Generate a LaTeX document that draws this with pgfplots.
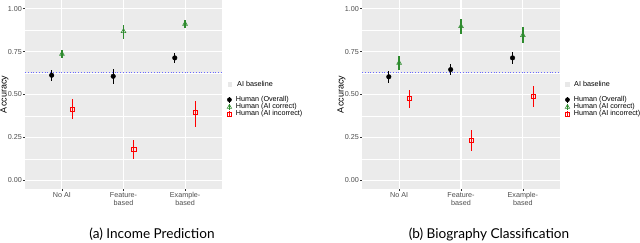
\documentclass[border=0pt]{standalone}
\usepackage{fontspec}
\setmainfont{Liberation Sans}
\newfontfamily\capfont{Lato}
\usepackage{pgfplots}
\usepackage{pgfplotstable}
\pgfplotsset{compat=1.18}
\definecolor{panelbg}{HTML}{EBEBEB}
\definecolor{ticklab}{HTML}{4D4D4D}
\definecolor{tickcol}{HTML}{333333}
\definecolor{dgreen}{HTML}{2E8B2E}
\definecolor{blblue}{HTML}{6A6AFF}
\definecolor{keygrey}{HTML}{E8E8E8}

% left panel data: x y ep em
\pgfplotstableread{
x y ep em
-0.167 0.612 0.033 0.034
0.833 0.606 0.043 0.042
1.833 0.713 0.029 0.029
}\LOverall
\pgfplotstableread{
x y ep em
0 0.736 0.021 0.024
1 0.868 0.035 0.044
2 0.911 0.021 0.023
}\LCorrect
\pgfplotstableread{
x y ep em
0.167 0.413 0.058 0.058
1.167 0.180 0.058 0.058
2.167 0.397 0.064 0.085
}\LIncorrect
% right panel data
\pgfplotstableread{
x y ep em
-0.167 0.603 0.033 0.035
0.833 0.645 0.035 0.033
1.833 0.713 0.037 0.035
}\ROverall
\pgfplotstableread{
x y ep em
0 0.684 0.039 0.039
1 0.897 0.043 0.044
2 0.845 0.048 0.045
}\RCorrect
\pgfplotstableread{
x y ep em
0.167 0.476 0.053 0.053
1.167 0.234 0.057 0.064
2.167 0.490 0.058 0.064
}\RIncorrect

\pgfplotsset{
  myaxis/.style={
    scale only axis, height=189pt,
    xmin=-0.6, xmax=2.6, ymin=-0.05, ymax=1.05,
    axis background/.style={fill=panelbg},
    axis line style={draw=none},
    xtick={0,1,2},
    xticklabels={No AI,{Feature-\\based},{Example-\\based}},
    ytick={0,0.25,0.5,0.75,1},
    yticklabels={0.00,0.25,0.50,0.75,1.00},
    minor ytick={0.125,0.375,0.625,0.875},
    grid=both,
    major grid style={white, line width=1.1pt},
    minor grid style={white, line width=0.55pt},
    tick align=outside,
    xtick pos=bottom, ytick pos=left,
    major tick length=2pt, minor tick length=0pt,
    tick style={tickcol, line width=0.5pt},
    tick label style={font=\fontsize{7.2}{8}\selectfont, text=ticklab},
    xticklabel style={align=center, inner sep=1pt},
    yticklabel style={inner sep=1pt},
    ylabel={Accuracy},
    every axis y label/.style={at={(axis description cs:-0.104,0.5)}, rotate=90, anchor=center, font=\fontsize{9}{10}\selectfont},
    error bars/y dir=both, error bars/y explicit, error bars/error mark=none,
    legend style={draw=none, fill=none, at={(axis description cs:1.024,0.492)}, anchor=north west,
      font=\fontsize{7.2}{8}\selectfont, row sep=0pt, inner sep=0pt, column sep=4pt,
      nodes={inner sep=0pt, text height=5.1pt, text depth=1.3pt}},
    legend cell align=left,
  },
  ovr/.style={black, only marks, mark=*, mark size=2.3pt,
    error bars/error bar style={line width=1.3pt, black},
    legend image code/.code={\draw[black,line width=1.1pt](0pt,-3pt)--(0pt,3pt); \fill[black](0pt,0pt) circle (2.1pt);}},
  cor/.style={dgreen, only marks, mark=triangle, mark size=2.7pt, mark options={line width=0.6pt, fill=none},
    error bars/error bar style={line width=1.3pt, dgreen},
    legend image code/.code={\draw[dgreen,line width=1.1pt](0pt,-3pt)--(0pt,3pt); \draw[dgreen,line width=0.6pt](0pt,2.4pt)--(-2.2pt,-1.5pt)--(2.2pt,-1.5pt)--cycle;}},
  inc/.style={red, only marks, mark=square, mark size=2.1pt, mark options={line width=0.6pt, fill=none},
    error bars/error bar style={line width=1.3pt, red},
    legend image code/.code={\draw[red,line width=1.1pt](0pt,-3pt)--(0pt,3pt); \draw[red,line width=0.6pt](-2pt,-2pt) rectangle (2pt,2pt);}},
}

\begin{document}
\begin{tikzpicture}
\begin{axis}[myaxis, width=197pt, at={(25pt,54pt)}, anchor=south west]
\addplot[blblue, dotted, line width=0.8pt, forget plot] coordinates {(-0.6,0.628) (2.6,0.628)};
\addplot[ovr] table[x=x,y=y,y error plus=ep,y error minus=em] {\LOverall};
\addlegendentry{Human (Overall)}
\addplot[cor] table[x=x,y=y,y error plus=ep,y error minus=em] {\LCorrect};
\addlegendentry{Human (AI correct)}
\addplot[inc] table[x=x,y=y,y error plus=ep,y error minus=em] {\LIncorrect};
\addlegendentry{Human (AI incorrect)}
\end{axis}
\begin{axis}[myaxis, width=198pt, at={(362pt,54pt)}, anchor=south west]
\addplot[blblue, dotted, line width=0.8pt, forget plot] coordinates {(-0.6,0.628) (2.6,0.628)};
\addplot[ovr] table[x=x,y=y,y error plus=ep,y error minus=em] {\ROverall};
\addlegendentry{Human (Overall)}
\addplot[cor] table[x=x,y=y,y error plus=ep,y error minus=em] {\RCorrect};
\addlegendentry{Human (AI correct)}
\addplot[inc] table[x=x,y=y,y error plus=ep,y error minus=em] {\RIncorrect};
\addlegendentry{Human (AI incorrect)}
\end{axis}
\node[anchor=west, inner sep=0pt, font=\fontsize{7.2}{8}\selectfont] at (227.5pt,159pt) {\textcolor{keygrey}{\rule[-0.5pt]{4.5pt}{4.5pt}}\hspace{5pt}AI baseline};
\node[anchor=west, inner sep=0pt, font=\fontsize{7.2}{8}\selectfont] at (565pt,159pt) {\textcolor{keygrey}{\rule[-0.5pt]{4.5pt}{4.5pt}}\hspace{4.5pt}AI baseline};
\node[anchor=base, inner sep=0pt, font=\capfont\fontsize{13.6}{15}\selectfont] at (152pt,4pt) {(a) Income Prediction};
\node[anchor=base, inner sep=0pt, font=\capfont\fontsize{13.6}{15}\selectfont] at (489pt,4pt) {(b) Biography Classification};
\pgfresetboundingbox
\path (0pt,0pt) rectangle (640pt,243pt);
\end{tikzpicture}
\end{document}
